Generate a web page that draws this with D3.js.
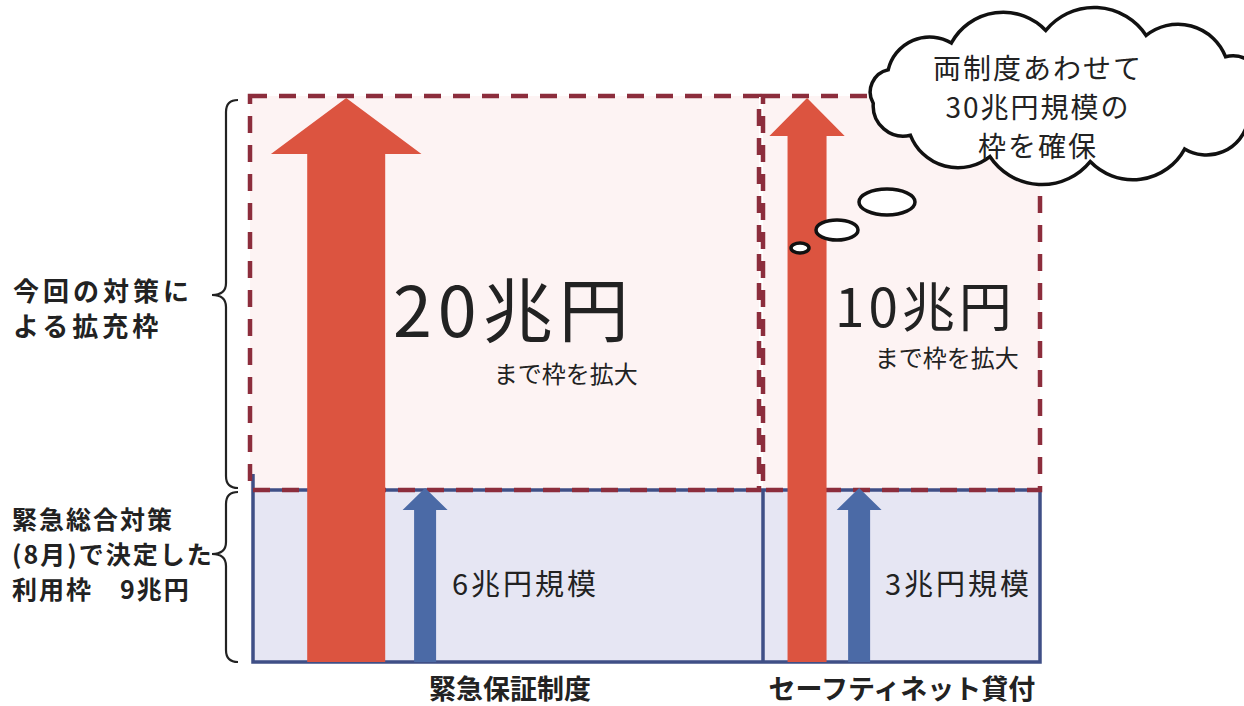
<!DOCTYPE html>
<html>
<head>
<meta charset="utf-8">
<script src="https://cdn.jsdelivr.net/npm/d3@7"></script>
<style>
  body { margin: 0; background: #fff; }
  text { font-family: "Noto Sans CJK JP", "Noto Sans", sans-serif; fill: #222; }
</style>
</head>
<body>
<svg id="chart" width="1244" height="706"></svg>
<script>
// data (兆円)
const programs = ['緊急保証制度', 'セーフティネット貸付'];
const augustAmounts = [6, 3];      // 緊急総合対策(8月)
const expansionAmounts = [20, 10]; // 今回の対策
const upperSideLabel = ['今回の対策に', 'よる拡充枠'];
const lowerSideLabel = ['緊急総合対策', '(8月)で決定した', '利用枠　9兆円'];
const cloudLines = ['両制度あわせて', '30兆円規模の', '枠を確保'];

// layout
const groups = [
  { left: 250, right: 759, red: 0.189, blue: 0.344, bigX: 393, bigY: 337, bigSize: 70, subY: 383 },
  { left: 763, right: 1040, red: 0.159, blue: 0.347, bigX: 835, bigY: 327, bigSize: 53, subY: 367 }
];
const dashColor = '#8c2d3c';
const blueLine = '#3f4f86';

const svg = d3.select('#chart');

const baseTotal = d3.sum(augustAmounts);
const fullTotal = d3.sum(expansionAmounts);

const yScale = d3.scaleLinear()
  .domain([0, baseTotal, fullTotal])
  .range([662, 490, 96]);

const shaftWidth = d3.scaleLinear()
  .domain([0, 20])
  .range([0, 78]);

function arrowPath(cx, w, hw, hh, top, bottom) {
  const p = d3.path();
  p.moveTo(cx - w / 2, bottom);
  p.lineTo(cx - w / 2, top + hh);
  p.lineTo(cx - hw / 2, top + hh);
  p.lineTo(cx, top);
  p.lineTo(cx + hw / 2, top + hh);
  p.lineTo(cx + w / 2, top + hh);
  p.lineTo(cx + w / 2, bottom);
  p.closePath();
  return p.toString();
}

// pink expansion areas
svg.selectAll('rect.expand')
  .data(groups)
  .join('rect')
  .attr('class', 'expand')
  .attr('x', g => g.left)
  .attr('y', yScale(fullTotal))
  .attr('width', g => g.right - g.left)
  .attr('height', yScale(baseTotal) - yScale(fullTotal))
  .attr('fill', '#fdf3f3');

// blue base area
svg.append('rect')
  .attr('x', groups[0].left + 3)
  .attr('y', yScale(baseTotal))
  .attr('width', groups[1].right - groups[0].left - 3)
  .attr('height', yScale(0) - yScale(baseTotal))
  .attr('fill', '#e6e6f3');

// blue frame lines
const frame = d3.path();
frame.moveTo(groups[0].left + 3, yScale(baseTotal) - 16);
frame.lineTo(groups[0].left + 3, yScale(0));
frame.lineTo(groups[1].right, yScale(0));
frame.lineTo(groups[1].right, yScale(baseTotal));
frame.moveTo(groups[1].left, yScale(baseTotal));
frame.lineTo(groups[1].left, yScale(0));
frame.moveTo(groups[0].left + 3, yScale(baseTotal));
frame.lineTo(groups[1].right, yScale(baseTotal));
svg.append('path')
  .attr('d', frame.toString())
  .attr('fill', 'none')
  .attr('stroke', blueLine)
  .attr('stroke-width', 3.5);

// dashed expansion frames
svg.selectAll('rect.dash')
  .data(groups)
  .join('rect')
  .attr('class', 'dash')
  .attr('x', g => g.left)
  .attr('y', yScale(fullTotal))
  .attr('width', g => g.right - g.left)
  .attr('height', yScale(baseTotal) - yScale(fullTotal))
  .attr('fill', 'none')
  .attr('stroke', dashColor)
  .attr('stroke-width', 4.5)
  .attr('stroke-dasharray', '17,12');

// red arrows (expansion)
svg.selectAll('path.red')
  .data(groups)
  .join('path')
  .attr('class', 'red')
  .attr('d', (g, i) => {
    const w = shaftWidth(expansionAmounts[i]);
    const cx = g.left + g.red * (g.right - g.left);
    return arrowPath(cx, w, w * 1.93, 20 + w * 0.46, yScale(fullTotal) + 2, yScale(0));
  })
  .attr('fill', '#dc5440');

// blue arrows (August)
svg.selectAll('path.blue')
  .data(groups)
  .join('path')
  .attr('class', 'blue')
  .attr('d', g => {
    const cx = g.left + g.blue * (g.right - g.left);
    return arrowPath(cx, 22, 45, 22, yScale(baseTotal) - 2, yScale(0));
  })
  .attr('fill', '#4b6aa6');

// big amounts
svg.selectAll('text.big')
  .data(groups)
  .join('text')
  .attr('class', 'big')
  .attr('x', g => g.bigX)
  .attr('y', g => g.bigY)
  .attr('font-size', g => g.bigSize)
  .attr('letter-spacing', (g, i) => i === 0 ? 6 : 4)
  .text((g, i) => `${expansionAmounts[i]}兆円`);

svg.selectAll('text.sub')
  .data(groups)
  .join('text')
  .attr('class', 'sub')
  .attr('x', function(g) {
    const big = svg.selectAll('text.big').nodes()[groups.indexOf(g)];
    const box = big.getBBox();
    return box.x + box.width + 3;
  })
  .attr('y', g => g.subY)
  .attr('text-anchor', 'end')
  .attr('font-size', 24)
  .text('まで枠を拡大');

// August amounts
svg.selectAll('text.base')
  .data(groups)
  .join('text')
  .attr('class', 'base')
  .attr('x', (g, i) => i === 0 ? 452 : 885)
  .attr('y', 595)
  .attr('font-size', 29)
  .attr('letter-spacing', 3)
  .text((g, i) => `${augustAmounts[i]}兆円規模`);

// program names
svg.selectAll('text.program')
  .data(programs)
  .join('text')
  .attr('class', 'program')
  .attr('x', (d, i) => i === 0 ? 510 : 902)
  .attr('y', 699)
  .attr('text-anchor', 'middle')
  .attr('font-size', 27)
  .attr('font-weight', 'bold')
  .text(d => d);

// braces on the left
function bracePath(x, top, bottom, tipY, tipX) {
  const r = 12;
  const p = d3.path();
  p.moveTo(x + r, top);
  p.quadraticCurveTo(x, top, x, top + r);
  p.lineTo(x, tipY - r);
  p.quadraticCurveTo(x, tipY, tipX, tipY);
  p.quadraticCurveTo(x, tipY, x, tipY + r);
  p.lineTo(x, bottom - r);
  p.quadraticCurveTo(x, bottom, x + r, bottom);
  return p.toString();
}
svg.append('path')
  .attr('d', bracePath(226, 100, 488, 295, 212))
  .attr('fill', 'none').attr('stroke', '#222').attr('stroke-width', 2.2);
svg.append('path')
  .attr('d', bracePath(226, 492, 662, 554, 212))
  .attr('fill', 'none').attr('stroke', '#222').attr('stroke-width', 2.2);

svg.selectAll('text.upper')
  .data(upperSideLabel)
  .join('text')
  .attr('class', 'upper')
  .attr('x', 13)
  .attr('y', (d, i) => 301 + i * 35)
  .attr('font-size', 26)
  .attr('font-weight', 'bold')
  .attr('letter-spacing', 4)
  .text(d => d);

svg.selectAll('text.lower')
  .data(lowerSideLabel)
  .join('text')
  .attr('class', 'lower')
  .attr('x', 12)
  .attr('y', (d, i) => 529 + i * 35)
  .attr('font-size', 25)
  .attr('font-weight', 'bold')
  .attr('letter-spacing', 2)
  .text(d => d);

// thought cloud
function cloudPath(cx, cy, rx, ry, n, offset) {
  const pts = d3.range(n).map(i => {
    const t = (i / n) * 2 * Math.PI + offset;
    return [cx + rx * Math.cos(t), cy + ry * Math.sin(t)];
  });
  let d = `M${pts[0][0]},${pts[0][1]}`;
  pts.forEach((p, i) => {
    const q = pts[(i + 1) % n];
    const chord = Math.hypot(q[0] - p[0], q[1] - p[1]);
    const r = chord * 0.62;
    d += `A${r},${r} 0 0 1 ${q[0]},${q[1]}`;
  });
  return d + 'Z';
}
svg.append('path')
  .attr('d', cloudPath(1068, 96, 196, 66, 12, 0.41))
  .attr('fill', '#fff')
  .attr('stroke', '#111')
  .attr('stroke-width', 3.5);

const bubbles = [[887, 202, 28, 13], [837, 230, 21, 10], [800, 248, 9, 5]];
svg.selectAll('ellipse.bubble')
  .data(bubbles)
  .join('ellipse')
  .attr('class', 'bubble')
  .attr('cx', d => d[0]).attr('cy', d => d[1])
  .attr('rx', d => d[2]).attr('ry', d => d[3])
  .attr('fill', '#fff')
  .attr('stroke', '#111')
  .attr('stroke-width', 3.5);

svg.selectAll('text.cloud')
  .data(cloudLines)
  .join('text')
  .attr('class', 'cloud')
  .attr('x', 1038)
  .attr('y', (d, i) => 79 + i * 39)
  .attr('text-anchor', 'middle')
  .attr('font-size', 28)
  .attr('letter-spacing', 2)
  .text(d => d);
</script>
</body>
</html>
